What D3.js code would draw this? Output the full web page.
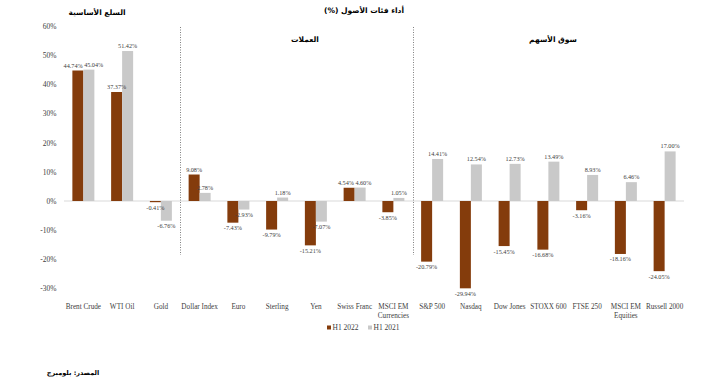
<!DOCTYPE html>
<html><head><meta charset="utf-8">
<script src="https://cdn.jsdelivr.net/npm/d3@7"></script>
<style>body{margin:0;background:#fff}svg{display:block}</style>
</head><body>
<script>
const categories = [["Brent Crude"],["WTI Oil"],["Gold"],["Dollar Index"],["Euro"],["Sterling"],["Yen"],["Swiss Franc"],["MSCI EM","Currencies"],["S&P 500"],["Nasdaq"],["Dow Jones"],["STOXX 600"],["FTSE 250"],["MSCI EM","Equities"],["Russell 2000"]];
const seriesNames = ["H1 2022","H1 2021"];
const h1_2022 = [44.74,37.37,-0.41,9.08,-7.43,-9.79,-15.21,4.54,-3.85,-20.79,-29.94,-15.45,-16.68,-3.16,-18.16,-24.05];
const h1_2021 = [45.04,51.42,-6.76,2.78,-2.93,1.18,-7.07,4.60,1.05,14.41,12.54,12.73,13.49,8.93,6.46,17.00];
const yTicks = [-30,-20,-10,0,10,20,30,40,50,60];
const sections = [{name:"السلع الأساسية", start:0},{name:"العملات", start:3},{name:"سوق الأسهم", start:9}];
const title = "أداء فئات الأصول (%)";
const source = "المصدر: بلومبرج";

const colors = ["#843C0C","#C9C9C9"];
const W=720,H=382;
const svg=d3.select("body").append("svg").attr("width",W).attr("height",H);
const keys = categories.map(c=>c.join(" "));
const x=d3.scaleBand().domain(keys).range([64,684]).padding(0);
const y=d3.scaleLinear().domain([-30,60]).range([288.5,26]);
const serif="'Liberation Serif','Times New Roman',serif";
const arab="'DejaVu Sans',sans-serif";

// y axis
const ya=svg.append("g").attr("transform","translate(56.5,0)")
  .call(d3.axisLeft(y).tickValues(yTicks).tickFormat(d=>d+"%").tickSize(0).tickPadding(0));
ya.select(".domain").remove();
ya.selectAll("text").attr("font-family",serif).attr("font-size",7.5).attr("fill","#404040");

// zero line
svg.append("line").attr("x1",64).attr("x2",684).attr("y1",y(0)).attr("y2",y(0)).attr("stroke","#D9D9D9").attr("stroke-width",1);

// separators
sections.slice(1).forEach(s=>{
  const xx=Math.round(x(keys[s.start]))+0.5;
  svg.append("line").attr("x1",xx).attr("x2",xx).attr("y1",27).attr("y2",255)
    .attr("stroke","#808080").attr("stroke-width",1).attr("stroke-dasharray","1,1.5");
});

const data=keys.map((k,i)=>({k,vals:[h1_2022[i],h1_2021[i]]}));
const xs=d3.scaleBand().domain(seriesNames).range([0,22]);
const g=svg.append("g");
const gl=svg.append("g");
const labels=[];
data.forEach((d,i)=>{
  const gx=x(d.k)+x.bandwidth()/2-11;
  d.vals.forEach((v,j)=>{
    const bx=gx+xs(seriesNames[j]);
    g.append("rect").attr("x",bx).attr("width",xs.bandwidth())
      .attr("y",y(Math.max(0,v))).attr("height",Math.abs(y(v)-y(0)))
      .attr("fill",colors[j]);
    const t=gl.append("text").attr("x",bx+xs.bandwidth()/2)
      .attr("y",v>=0?y(v)-3:y(v)+7.5)
      .attr("text-anchor","middle").attr("font-family",serif).attr("font-size",6.2).attr("fill","#404040")
      .text(v.toFixed(2)+"%");
    labels.push({i,j,v,t});
  });
});
// simple collision resolution within a group
d3.groups(labels,l=>l.i).forEach(([i,ls])=>{
  const [a,b]=ls;
  const ya_=+a.t.attr("y"), yb=+b.t.attr("y");
  if(Math.abs(ya_-yb)<6.5){
    const wa=a.t.node().getComputedTextLength(), wb=b.t.node().getComputedTextLength();
    const xa=+a.t.attr("x"), xb=+b.t.attr("x");
    const overlap=(xa+wa/2)-(xb-wb/2)+1.5;
    if(overlap>0){a.t.attr("x",xa-overlap/2);b.t.attr("x",xb+overlap/2);}
  }
});

// x labels
categories.forEach((c,i)=>{
  const t=svg.append("text").attr("x",x(keys[i])+x.bandwidth()/2).attr("y",309)
    .attr("text-anchor","middle").attr("font-family",serif).attr("font-size",7.2).attr("fill","#404040");
  c.forEach((line,li)=>t.append("tspan").attr("x",x(keys[i])+x.bandwidth()/2).attr("dy",li?9:0).text(line));
});

// legend
const lg=svg.append("g").attr("transform","translate(327,330)");
seriesNames.forEach((s,j)=>{
  const off=j*41;
  lg.append("rect").attr("x",off).attr("y",-4.5).attr("width",4).attr("height",4).attr("fill",colors[j]);
  lg.append("text").attr("x",off+5.5).attr("y",0).attr("font-family",serif).attr("font-size",7.5).attr("fill","#404040").text(s);
});

// titles
svg.append("text").attr("x",364).attr("y",13).attr("text-anchor","middle").attr("direction","rtl").attr("font-family",arab)
  .attr("font-weight","bold").attr("font-size",7.5).attr("fill","#000").text(title);
const secPos=[[97,15],[305,42],[553,42]];
sections.forEach((s,i)=>{
  svg.append("text").attr("x",secPos[i][0]).attr("y",secPos[i][1]).attr("text-anchor","middle").attr("direction","rtl").attr("font-family",arab)
    .attr("font-weight","bold").attr("font-size",7.5).attr("fill","#000").text(s.name);
});
svg.append("text").attr("x",73).attr("y",375).attr("text-anchor","middle").attr("direction","rtl").attr("font-family",arab)
  .attr("font-weight","bold").attr("font-size",6.5).attr("fill","#000").text(source);
</script>
</body></html>
